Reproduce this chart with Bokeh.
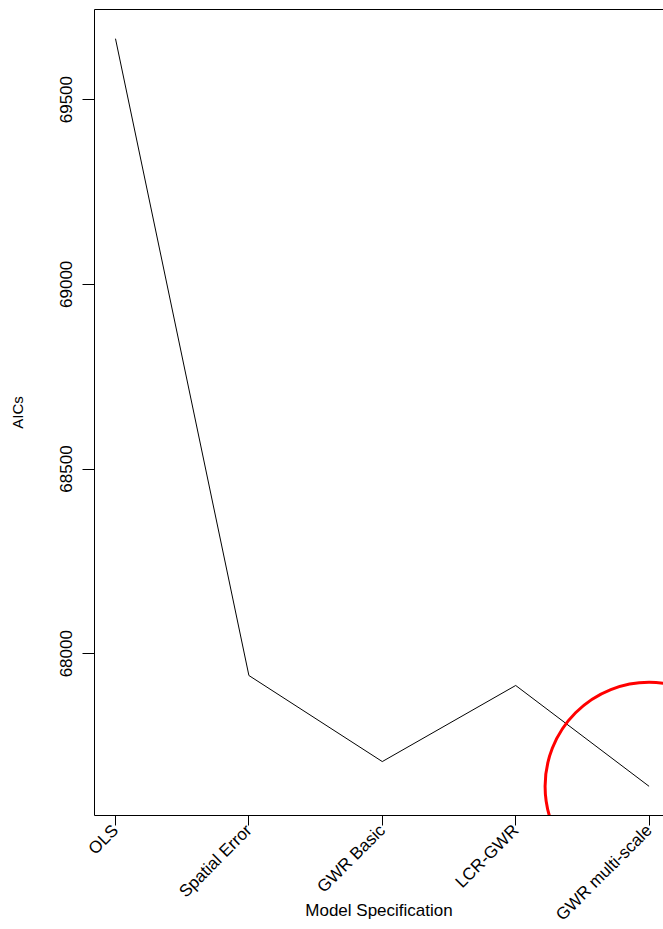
import math
from bokeh.plotting import figure
from bokeh.models import Range1d, FixedTicker, LinearAxis
from bokeh.embed import file_html
from bokeh.resources import INLINE

# ---- data ----
models = ["OLS", "Spatial Error", "GWR Basic", "LCR-GWR", "GWR multi-scale"]
aic = [69665, 67941, 67708, 67914, 67641]
y_ticks = [68000, 68500, 69000, 69500]
highlight_x = [5]
highlight_y = [67641]

x_pos = list(range(1, len(models) + 1))
FONT = "Liberation Sans"

p = figure(width=663, height=929, output_backend="svg", toolbar_location=None,
           title=None,
           x_range=Range1d(0.8426, 5.108), y_range=Range1d(67562, 69744),
           min_border_left=94, min_border_right=0, min_border_top=9,
           min_border_bottom=114,
           background_fill_color="white", border_fill_color="white")
p.grid.visible = False
p.outline_line_color = None

p.line(x_pos, aic, line_color="black", line_width=1)
p.scatter(highlight_x, highlight_y, marker="circle", size=208,
          fill_color=None, line_color="red", line_width=3)

# x axis
xa = p.xaxis[0]
xa.ticker = FixedTicker(ticks=x_pos)
xa.major_label_overrides = {i: m for i, m in zip(x_pos, models)}
xa.major_label_orientation = math.pi / 4
xa.minor_tick_line_color = None
xa.major_tick_out = 10
xa.major_tick_in = 0
xa.major_label_standoff = 2
xa.major_label_text_font = FONT
xa.major_label_text_font_size = "17px"
xa.major_label_text_color = "black"
xa.axis_line_color = "black"
xa.major_tick_line_color = "black"
xa.axis_label = "Model Specification"
xa.axis_label_text_font = FONT
xa.axis_label_text_font_size = "17px"
xa.axis_label_text_font_style = "normal"
xa.axis_label_text_color = "black"
xa.axis_label_standoff = -33

# y axis
ya = p.yaxis[0]
ya.ticker = FixedTicker(ticks=y_ticks)
ya.major_label_orientation = "vertical"
ya.minor_tick_line_color = None
ya.major_tick_out = 12
ya.major_tick_in = 0
ya.major_label_standoff = 10
ya.major_label_text_font = FONT
ya.major_label_text_font_size = "17px"
ya.major_label_text_color = "black"
ya.axis_line_color = "black"
ya.major_tick_line_color = "black"
ya.axis_label = "AICs"
ya.axis_label_text_font = FONT
ya.axis_label_text_font_size = "15px"
ya.axis_label_text_font_style = "normal"
ya.axis_label_text_color = "black"
ya.axis_label_standoff = 32

# top border line
top = LinearAxis(ticker=FixedTicker(ticks=[]), major_tick_line_color=None,
                 minor_tick_line_color=None, major_label_text_font_size="0px",
                 axis_line_color="black")
p.add_layout(top, "above")

open("out.html", "w").write(file_html(p, INLINE))
